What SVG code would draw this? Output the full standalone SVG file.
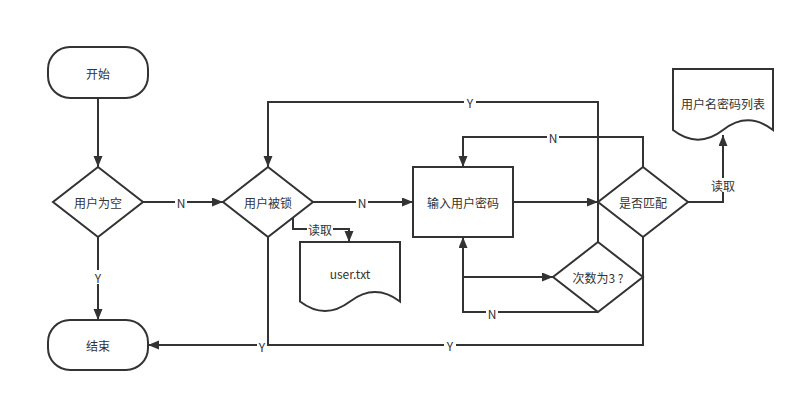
<svg xmlns="http://www.w3.org/2000/svg" width="806" height="402" viewBox="0 0 806 402">
<defs>
<marker id="arr" markerUnits="userSpaceOnUse" markerWidth="12" markerHeight="10" refX="11" refY="4.5" orient="auto">
<path d="M0,0 L11,4.5 L0,9 Z" fill="#333"/>
</marker>
<style>
.s{fill:#fff;stroke:#333;stroke-width:2}
.e{fill:none;stroke:#333;stroke-width:2}
.t{font-family:"Noto Sans CJK SC","Liberation Sans",sans-serif;font-size:12px;fill:#333;text-anchor:middle;dominant-baseline:central}
.lb{fill:#fff}
</style>
</defs>
<rect width="806" height="402" fill="#fff"/>
<g id="edges">
<path class="e" d="M98,98 V167" marker-end="url(#arr)"/>
<path class="e" d="M143,202 H223" marker-end="url(#arr)"/>
<path class="e" d="M98,237 V320" marker-end="url(#arr)"/>
<path class="e" d="M313,202 H413" marker-end="url(#arr)"/>
<path class="e" d="M293,218 V229 H349 V242" marker-end="url(#arr)"/>
<path class="e" d="M513,202 H598" marker-end="url(#arr)"/>
<path class="e" d="M643,167 V137 H463 V167" marker-end="url(#arr)"/>
<path class="e" d="M598,242 V102 H268 V167" marker-end="url(#arr)"/>
<path class="e" d="M463,237 V277 H553" marker-end="url(#arr)"/>
<path class="e" d="M598,312 H463 V237" marker-end="url(#arr)"/>
<path class="e" d="M643,237 V345 H148" marker-end="url(#arr)"/>
<path class="e" d="M268,237 V345"/>
<path class="e" d="M688,202 H723 V135" marker-end="url(#arr)"/>
</g>
<g id="edge-labels">
<rect class="lb" x="175" y="195" width="12" height="14"/><text class="t" x="181" y="202">N</text>
<rect class="lb" x="92" y="270" width="12" height="14"/><text class="t" x="98" y="277">Y</text>
<rect class="lb" x="356" y="195" width="12" height="14"/><text class="t" x="362" y="202">N</text>
<rect class="lb" x="307" y="222" width="26" height="14"/><text class="t" x="320" y="229">读取</text>
<rect class="lb" x="464" y="95" width="12" height="14"/><text class="t" x="470" y="102">Y</text>
<rect class="lb" x="547" y="130" width="12" height="14"/><text class="t" x="553" y="137">N</text>
<rect class="lb" x="486" y="306" width="12" height="14"/><text class="t" x="492" y="313">N</text>
<rect class="lb" x="444" y="338" width="12" height="14"/><text class="t" x="450" y="345">Y</text>
<rect class="lb" x="257" y="338" width="10" height="14"/><text class="t" x="262" y="346">Y</text>
<rect class="lb" x="710" y="178" width="26" height="14"/><text class="t" x="723" y="185">读取</text>
</g>
<g id="start"><rect class="s" x="48" y="47" width="100" height="51" rx="22"/><text class="t" x="98" y="73">开始</text></g>
<g id="empty"><path class="s" d="M98,167 L143,202 L98,237 L53,202 Z"/><text class="t" x="98" y="202">用户为空</text></g>
<g id="locked"><path class="s" d="M268,167 L313,202 L268,237 L223,202 Z"/><text class="t" x="268" y="202">用户被锁</text></g>
<g id="input"><rect class="s" x="413" y="167" width="100" height="70"/><text class="t" x="463" y="202">输入用户密码</text></g>
<g id="match"><path class="s" d="M643,167 L688,202 L643,237 L598,202 Z"/><text class="t" x="643" y="202">是否匹配</text></g>
<g id="count"><path class="s" d="M598,242 L643,277 L598,312 L553,277 Z"/><text class="t" x="598" y="277">次数为3 ?</text></g>
<g id="end"><rect class="s" x="48" y="320" width="100" height="50" rx="22"/><text class="t" x="98" y="345">结束</text></g>
<g id="usertxt"><path class="s" d="M300,242 H400 V301.5 Q375,282.6 350,301.5 Q325,320.4 300,301.5 Z"/><text class="t" x="350" y="273">user.txt</text></g>
<g id="pwlist"><path class="s" d="M673,69 H773 V130 Q748,110.6 723,130 Q698,149.4 673,130 Z"/><text class="t" x="723" y="103">用户名密码列表</text></g>
</svg>
